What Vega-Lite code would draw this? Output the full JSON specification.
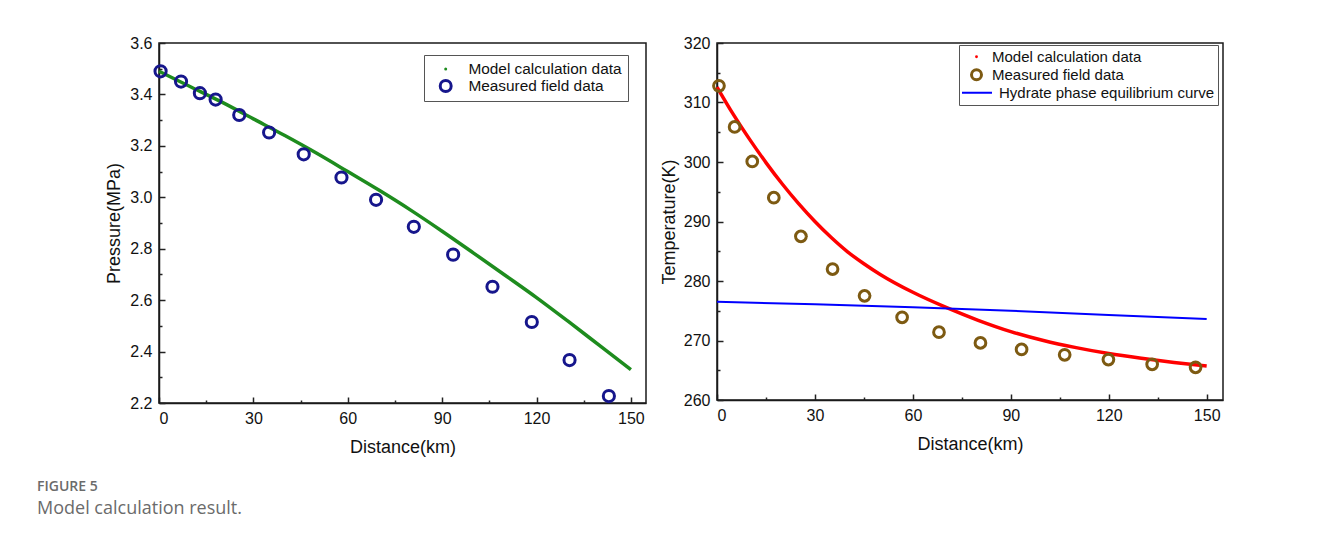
{
  "$schema": "https://vega.github.io/schema/vega-lite/v6.json",
  "background": "white",
  "padding": {"left": 37, "top": 34, "right": 5, "bottom": 5},
  "datasets": {
    "pressure": [
      {"distance": 0, "pressure": 3.49, "series": "Model calculation data"},
      {"distance": 10, "pressure": 3.43, "series": "Model calculation data"},
      {"distance": 20, "pressure": 3.37, "series": "Model calculation data"},
      {"distance": 30, "pressure": 3.305, "series": "Model calculation data"},
      {"distance": 40, "pressure": 3.24, "series": "Model calculation data"},
      {"distance": 50, "pressure": 3.172, "series": "Model calculation data"},
      {"distance": 60, "pressure": 3.10, "series": "Model calculation data"},
      {"distance": 70, "pressure": 3.027, "series": "Model calculation data"},
      {"distance": 80, "pressure": 2.95, "series": "Model calculation data"},
      {"distance": 90, "pressure": 2.868, "series": "Model calculation data"},
      {"distance": 100, "pressure": 2.783, "series": "Model calculation data"},
      {"distance": 110, "pressure": 2.697, "series": "Model calculation data"},
      {"distance": 120, "pressure": 2.61, "series": "Model calculation data"},
      {"distance": 130, "pressure": 2.518, "series": "Model calculation data"},
      {"distance": 140, "pressure": 2.424, "series": "Model calculation data"},
      {"distance": 150, "pressure": 2.33, "series": "Model calculation data"},
      {"distance": 0.5, "pressure": 3.49, "series": "Measured field data"},
      {"distance": 7, "pressure": 3.45, "series": "Measured field data"},
      {"distance": 13, "pressure": 3.405, "series": "Measured field data"},
      {"distance": 18, "pressure": 3.38, "series": "Measured field data"},
      {"distance": 25.5, "pressure": 3.32, "series": "Measured field data"},
      {"distance": 35, "pressure": 3.252, "series": "Measured field data"},
      {"distance": 46, "pressure": 3.167, "series": "Measured field data"},
      {"distance": 58, "pressure": 3.077, "series": "Measured field data"},
      {"distance": 69, "pressure": 2.99, "series": "Measured field data"},
      {"distance": 81, "pressure": 2.885, "series": "Measured field data"},
      {"distance": 93.5, "pressure": 2.777, "series": "Measured field data"},
      {"distance": 106, "pressure": 2.652, "series": "Measured field data"},
      {"distance": 118.5, "pressure": 2.515, "series": "Measured field data"},
      {"distance": 130.5, "pressure": 2.367, "series": "Measured field data"},
      {"distance": 143, "pressure": 2.227, "series": "Measured field data"}
    ],
    "temperature": [
      {"distance": 0, "temperature": 312.6, "series": "Model calculation data"},
      {"distance": 5, "temperature": 308.0, "series": "Model calculation data"},
      {"distance": 10, "temperature": 303.8, "series": "Model calculation data"},
      {"distance": 15, "temperature": 299.9, "series": "Model calculation data"},
      {"distance": 20, "temperature": 296.3, "series": "Model calculation data"},
      {"distance": 25, "temperature": 293.0, "series": "Model calculation data"},
      {"distance": 30, "temperature": 290.0, "series": "Model calculation data"},
      {"distance": 35, "temperature": 287.3, "series": "Model calculation data"},
      {"distance": 40, "temperature": 284.9, "series": "Model calculation data"},
      {"distance": 45, "temperature": 282.9, "series": "Model calculation data"},
      {"distance": 50, "temperature": 281.1, "series": "Model calculation data"},
      {"distance": 60, "temperature": 278.1, "series": "Model calculation data"},
      {"distance": 70, "temperature": 275.6, "series": "Model calculation data"},
      {"distance": 80, "temperature": 273.4, "series": "Model calculation data"},
      {"distance": 90, "temperature": 271.5, "series": "Model calculation data"},
      {"distance": 100, "temperature": 270.0, "series": "Model calculation data"},
      {"distance": 110, "temperature": 268.8, "series": "Model calculation data"},
      {"distance": 120, "temperature": 267.8, "series": "Model calculation data"},
      {"distance": 130, "temperature": 267.0, "series": "Model calculation data"},
      {"distance": 140, "temperature": 266.3, "series": "Model calculation data"},
      {"distance": 150, "temperature": 265.7, "series": "Model calculation data"},
      {"distance": 0.6, "temperature": 312.8, "series": "Measured field data"},
      {"distance": 5.4, "temperature": 305.9, "series": "Measured field data"},
      {"distance": 10.8, "temperature": 300.1, "series": "Measured field data"},
      {"distance": 17.4, "temperature": 294.0, "series": "Measured field data"},
      {"distance": 25.7, "temperature": 287.5, "series": "Measured field data"},
      {"distance": 35.4, "temperature": 282.0, "series": "Measured field data"},
      {"distance": 45.2, "temperature": 277.5, "series": "Measured field data"},
      {"distance": 56.7, "temperature": 273.9, "series": "Measured field data"},
      {"distance": 68.0, "temperature": 271.4, "series": "Measured field data"},
      {"distance": 80.7, "temperature": 269.6, "series": "Measured field data"},
      {"distance": 93.3, "temperature": 268.5, "series": "Measured field data"},
      {"distance": 106.5, "temperature": 267.6, "series": "Measured field data"},
      {"distance": 119.9, "temperature": 266.8, "series": "Measured field data"},
      {"distance": 133.3, "temperature": 266.0, "series": "Measured field data"},
      {"distance": 146.6, "temperature": 265.5, "series": "Measured field data"},
      {"distance": 0, "temperature": 276.5, "series": "Hydrate phase equilibrium curve"},
      {"distance": 30, "temperature": 276.1, "series": "Hydrate phase equilibrium curve"},
      {"distance": 60, "temperature": 275.6, "series": "Hydrate phase equilibrium curve"},
      {"distance": 90, "temperature": 275.0, "series": "Hydrate phase equilibrium curve"},
      {"distance": 120, "temperature": 274.3, "series": "Hydrate phase equilibrium curve"},
      {"distance": 150, "temperature": 273.6, "series": "Hydrate phase equilibrium curve"}
    ]
  },
  "title": {
    "text": "FIGURE 5",
    "subtitle": "Model calculation result.",
    "orient": "bottom",
    "anchor": "start",
    "frame": "bounds",
    "dx": -68,
    "offset": 23,
    "font": "Open Sans",
    "fontSize": 14,
    "fontWeight": 600,
    "color": "#6b6b6b",
    "subtitleFont": "Open Sans",
    "subtitleFontSize": 18,
    "subtitleColor": "#6b6b6b",
    "subtitlePadding": 6
  },
  "spacing": 12,
  "resolve": {"scale": {"color": "independent"}, "legend": {"color": "independent"}},
  "hconcat": [
    {
      "width": 487,
      "height": 360,
      "data": {"name": "pressure"},
      "layer": [
        {
          "transform": [{"filter": "datum.series == 'Model calculation data'"}],
          "mark": {"type": "line", "strokeWidth": 3.5, "interpolate": "monotone"},
          "encoding": {
            "x": {"field": "distance", "type": "quantitative", "scale": {"domain": [0, 154.8], "nice": false},
              "axis": {"values": [0, 30, 60, 90, 120, 150], "title": "Distance(km)"}},
            "y": {"field": "pressure", "type": "quantitative", "scale": {"domain": [2.2, 3.6], "nice": false, "zero": false},
              "axis": {"values": [2.2, 2.4, 2.6, 2.8, 3.0, 3.2, 3.4, 3.6], "format": ".1f", "title": "Pressure(MPa)", "titlePadding": 6}},
            "color": {"field": "series", "type": "nominal",
              "scale": {"domain": ["Model calculation data", "Measured field data"], "range": ["#1e8c1e", "#16168c"]},
              "legend": {
                "title": null, "orient": "none", "legendX": 265, "legendY": 12,
                "labelFontSize": 15.4, "rowPadding": 0, "clipHeight": 16, "padding": 6, "strokeColor": "#555555",
                "symbolOffset": 8, "labelOffset": 15, "labelLimit": 400,
                "encode": {"symbols": {"update": {
                  "shape": {"value": "circle"},
                  "size": {"signal": "datum.value == 'Model calculation data' ? 9 : 120"},
                  "fill": {"signal": "datum.value == 'Model calculation data' ? '#1e8c1e' : 'transparent'"},
                  "stroke": {"signal": "datum.value == 'Model calculation data' ? '#1e8c1e' : '#16168c'"},
                  "strokeWidth": {"signal": "datum.value == 'Model calculation data' ? 0 : 3"},
                  "opacity": {"value": 1}
                }}}
              }}
          }
        },
        {
          "transform": [{"filter": "datum.series == 'Measured field data'"}],
          "mark": {"type": "point", "filled": false, "strokeWidth": 3, "size": 125, "opacity": 1},
          "encoding": {
            "x": {"field": "distance", "type": "quantitative",
              "axis": {"orient": "bottom", "values": [15, 45, 75, 105, 135], "labels": false, "title": null, "tickSize": -3, "domain": false}},
            "y": {"field": "pressure", "type": "quantitative",
              "axis": {"orient": "left", "values": [2.3, 2.5, 2.7, 2.9, 3.1, 3.3, 3.5], "labels": false, "title": null, "tickSize": -3, "domain": false}},
            "color": {"field": "series", "type": "nominal"}
          }
        }
      ],
      "resolve": {"axis": {"x": "independent", "y": "independent"}}
    },
    {
      "width": 506,
      "height": 357,
      "data": {"name": "temperature"},
      "layer": [
        {
          "transform": [{"filter": "datum.series == 'Model calculation data'"}],
          "mark": {"type": "line", "strokeWidth": 3.5, "interpolate": "monotone"},
          "encoding": {
            "x": {"field": "distance", "type": "quantitative", "scale": {"domain": [0, 155], "nice": false},
              "axis": {"values": [0, 30, 60, 90, 120, 150], "title": "Distance(km)"}},
            "y": {"field": "temperature", "type": "quantitative", "scale": {"domain": [260, 320], "nice": false, "zero": false},
              "axis": {"values": [260, 270, 280, 290, 300, 310, 320], "title": "Temperature(K)", "titlePadding": 5}},
            "color": {"field": "series", "type": "nominal",
              "scale": {"domain": ["Model calculation data", "Measured field data", "Hydrate phase equilibrium curve"], "range": ["#ff0000", "#7d5a12", "#0000ff"]},
              "legend": {
                "title": null, "orient": "none", "legendX": 242, "legendY": 2,
                "labelFontSize": 15, "rowPadding": 0, "clipHeight": 17.5, "padding": 3, "strokeColor": "#555555",
                "symbolOffset": 7, "labelOffset": 8, "labelLimit": 400,
                "encode": {
                  "symbols": {"update": {
                    "shape": {"signal": "datum.value == 'Hydrate phase equilibrium curve' ? 'stroke' : 'circle'"},
                    "size": {"signal": "datum.value == 'Model calculation data' ? 8 : datum.value == 'Measured field data' ? 100 : 960"},
                    "fill": {"signal": "datum.value == 'Model calculation data' ? '#ff0000' : 'transparent'"},
                    "stroke": {"signal": "datum.value == 'Model calculation data' ? '#ff0000' : datum.value == 'Measured field data' ? '#7d5a12' : '#0000ff'"},
                    "strokeWidth": {"signal": "datum.value == 'Model calculation data' ? 0 : datum.value == 'Measured field data' ? 3 : 2"},
                    "opacity": {"value": 1}
                  }},
                  "labels": {"update": {
                    "dx": {"signal": "datum.value == 'Hydrate phase equilibrium curve' ? 7 : 0"}
                  }}
                }
              }}
          }
        },
        {
          "transform": [{"filter": "datum.series == 'Hydrate phase equilibrium curve'"}],
          "mark": {"type": "line", "strokeWidth": 2},
          "encoding": {
            "x": {"field": "distance", "type": "quantitative", "axis": null},
            "y": {"field": "temperature", "type": "quantitative", "axis": null},
            "color": {"field": "series", "type": "nominal"}
          }
        },
        {
          "transform": [{"filter": "datum.series == 'Measured field data'"}],
          "mark": {"type": "point", "filled": false, "strokeWidth": 3, "size": 115, "opacity": 1},
          "encoding": {
            "x": {"field": "distance", "type": "quantitative",
              "axis": {"orient": "bottom", "values": [15, 45, 75, 105, 135], "labels": false, "title": null, "tickSize": -3, "domain": false}},
            "y": {"field": "temperature", "type": "quantitative",
              "axis": {"orient": "left", "values": [265, 275, 285, 295, 305, 315], "labels": false, "title": null, "tickSize": -3, "domain": false}},
            "color": {"field": "series", "type": "nominal"}
          }
        }
      ],
      "resolve": {"axis": {"x": "independent", "y": "independent"}}
    }
  ],
  "config": {
    "font": "Liberation Sans",
    "view": {"stroke": "#1a1a1a", "strokeWidth": 1.5},
    "axis": {
      "grid": false,
      "labelFont": "Liberation Sans", "labelFontSize": 16, "labelColor": "#111111",
      "titleFont": "Liberation Sans", "titleFontSize": 18, "titleFontWeight": "normal", "titleColor": "#111111",
      "tickColor": "#222222", "tickSize": -6, "tickWidth": 1.5,
      "domainColor": "#1a1a1a", "domainWidth": 1.5,
      "labelPadding": 13
    },
    "axisX": {"titlePadding": 12},
    "legend": {"labelFont": "Liberation Sans", "labelColor": "#111111", "strokeWidth": 1}
  }
}
